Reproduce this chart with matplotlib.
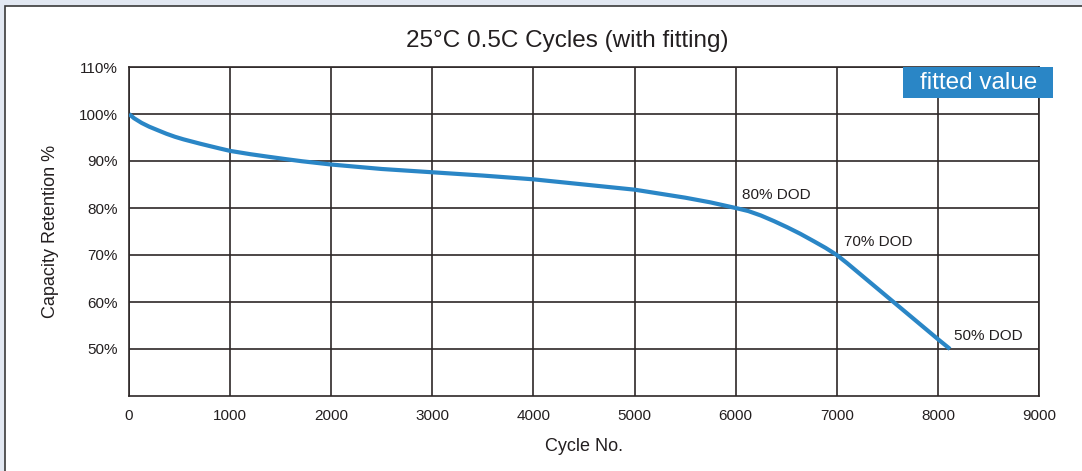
import matplotlib.pyplot as plt
from matplotlib.patches import Rectangle

plt.rcParams['font.family'] = ['Liberation Sans', 'DejaVu Sans']

# values
cycles = [0, 50, 125, 200, 290, 370, 455, 540, 620, 700, 785, 900, 1000,
          1200, 1380, 1550, 1710, 2000, 2500, 3000, 3500, 4000, 4500, 5000,
          5500, 5750, 6000, 6125, 6250, 6380, 6510, 6640, 6775, 6890, 7000,
          7100, 7250, 7500, 7750, 8000, 8120]
retention = [100, 99.1, 98.1, 97.3, 96.5, 95.8, 95.15, 94.6, 94.15, 93.7, 93.25, 92.65, 92.15,
             91.45, 90.9, 90.4, 89.95, 89.25, 88.3, 87.6, 86.9, 86.1, 85.0, 83.9,
             82.2, 81.2, 80.0, 79.35, 78.4, 77.2, 75.9, 74.5, 72.9, 71.5, 70.0,
             68.3, 65.6, 61.1, 56.6, 52.1, 50.0]

dod_labels = ['80% DOD', '70% DOD', '50% DOD']
dod_x = [6060, 7070, 8160]
dod_y = [80, 70, 50]

x_ticks = list(range(0, 9001, 1000))
y_ticks = [50, 60, 70, 80, 90, 100, 110]

fig = plt.figure(figsize=(10.82, 4.71), dpi=100)
fig.patch.set_facecolor('#e2e8f2')
# white panel with a dark frame on top/left
fig.patches.append(Rectangle((5 / 1082, -0.1), 1.2, 1.1 - 6 / 471,
                             transform=fig.transFigure, facecolor='white',
                             edgecolor='#3a3a3a', linewidth=1.2, zorder=-5))

ax = fig.add_axes([129 / 1082, 1 - 396 / 471, 910 / 1082, 329 / 471])
ax.set_facecolor('white')
grid_c = '#2e2828'
ax.set_xlim(0, 9000)
ax.set_ylim(40, 110)
ax.set_xticks(x_ticks)
ax.set_yticks(y_ticks)
ax.set_yticklabels([f'{v}%' for v in y_ticks])
ax.grid(True, color=grid_c, linewidth=1.2)
ax.tick_params(length=0, labelsize=11, colors='#231f20', pad=8)
ax.tick_params(axis='x', pad=9)
for s in ax.spines.values():
    s.set_color(grid_c)
    s.set_linewidth(1.2)

ax.plot(cycles, retention, color='#2a86c6', linewidth=3, solid_capstyle='butt',
        solid_joinstyle='round', zorder=3)

for t, x, y in zip(dod_labels, dod_x, dod_y):
    ax.text(x, y + 1.3, t, fontsize=11, color='#231f20', va='bottom', ha='left')

ax.set_xlabel('Cycle No.', fontsize=13, color='#231f20', labelpad=11)
ax.set_ylabel('Capacity Retention %', fontsize=13, color='#231f20', labelpad=14)

fig.text(567 / 1082, 1 - 41 / 471, '25°C 0.5C Cycles (with fitting)', fontsize=17.5,
         ha='center', va='center', color='#231f20')

# "fitted value" badge
fig.patches.append(Rectangle((903 / 1082, 1 - 98 / 471), 150 / 1082, 31 / 471,
                             transform=fig.transFigure, facecolor='#2a86c6',
                             edgecolor='none', zorder=5))
fig.text(979 / 1082, 1 - 83 / 471, 'fitted value', fontsize=17.5, color='white',
         ha='center', va='center', zorder=6)

fig.savefig('out.png', dpi=100)
